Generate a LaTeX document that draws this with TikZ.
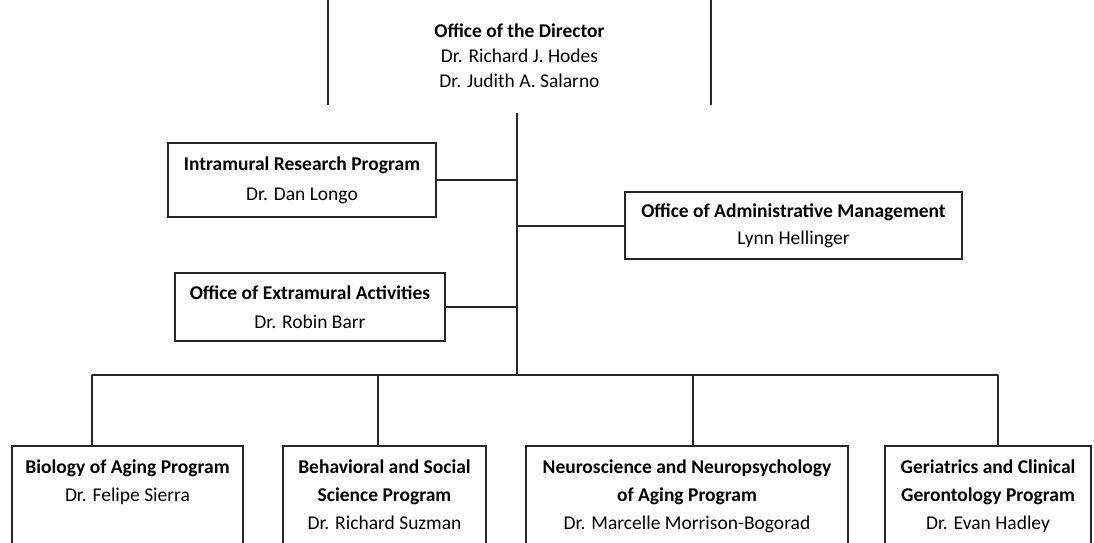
\documentclass[tikz,border=0pt]{standalone}
\usepackage{fontspec}
\setmainfont{Carlito}
\begin{document}
\begin{tikzpicture}[x=1pt,y=-1pt,
  ink/.style={draw=black!85, line width=2pt},
  box/.style={ink, rectangle, inner sep=0pt, fill=white},
  txt/.style={inner sep=0pt, align=center, font=\fontsize{19.5}{28}\selectfont},
  unitbox/.style={box, txt}
]
\useasboundingbox (0,0) rectangle (1094,542);
\clip (0,0) rectangle (1094,542);

% Office of the Director (box runs past the page edges)
\node[txt, anchor=north, font=\fontsize{19.5}{25}\selectfont] (dir) at (519.5,24)
  {\textbf{Office of the Director}\\Dr. Richard J. Hodes\\Dr. Judith A. Salarno};
\coordinate (dirl) at (328,105);
\coordinate (dirr) at (711,105);
\draw[ink] (dirl) -- (dirl |- 0,-5);
\draw[ink] (dirr) -- (dirr |- 0,-5);

% trunk
\coordinate (ttop) at (517,113);
\coordinate (tbus) at (517,375);
\draw[ink] (ttop) -- (tbus);

% staff offices
\node[unitbox, font=\fontsize{19.5}{30}\selectfont, minimum width=268pt, minimum height=74pt] (intra) at (302,180)
  {\textbf{Intramural Research Program}\\Dr. Dan Longo};
\node[unitbox, font=\fontsize{19.5}{27}\selectfont, minimum width=337pt, minimum height=67pt] (admin) at (793.5,225.5)
  {\textbf{Office of Administrative Management}\\Lynn Hellinger};
\node[unitbox, font=\fontsize{19.5}{29}\selectfont, minimum width=270pt, minimum height=68pt] (extra) at (310,307)
  {\textbf{Office of Extramural Activities}\\Dr. Robin Barr};

\draw[ink] (intra.east) -- (intra.east -| ttop);
\draw[ink] (admin.west) -- (admin.west -| ttop);
\draw[ink] (extra.east) -- (extra.east -| ttop);

% programs
\node[box, minimum width=231pt, minimum height=140pt, anchor=north] (bio) at (127.5,445) {};
\node[box, minimum width=203pt, minimum height=140pt, anchor=north] (beh) at (384.5,445) {};
\node[box, minimum width=322pt, minimum height=140pt, anchor=north] (neu) at (687,445) {};
\node[box, minimum width=206pt, minimum height=140pt, anchor=north] (ger) at (988,445) {};

\node[txt, anchor=north] (biot) at ([yshift=-15pt]bio.north) {\textbf{Biology of Aging Program}\\Dr. Felipe Sierra};
\node[txt, anchor=north] (beht) at ([yshift=-15pt]beh.north) {\textbf{Behavioral and Social}\\\textbf{Science Program}\\Dr. Richard Suzman};
\node[txt, anchor=north] (neut) at ([yshift=-15pt]neu.north) {\textbf{Neuroscience and Neuropsychology}\\\textbf{of Aging Program}\\Dr. Marcelle Morrison-Bogorad};
\node[txt, anchor=north] (gert) at ([yshift=-15pt]ger.north) {\textbf{Geriatrics and Clinical}\\\textbf{Gerontology Program}\\Dr. Evan Hadley};

% bus and drops
\coordinate (d1) at (92,375);
\coordinate (d2) at (378,375);
\coordinate (d3) at (693,375);
\coordinate (d4) at (998,375);
\draw[ink] (d1) -- (d4);
\draw[ink] (d1) -- (d1 |- bio.north);
\draw[ink] (d2) -- (d2 |- beh.north);
\draw[ink] (d3) -- (d3 |- neu.north);
\draw[ink] (d4) -- (d4 |- ger.north);
\end{tikzpicture}
\end{document}
